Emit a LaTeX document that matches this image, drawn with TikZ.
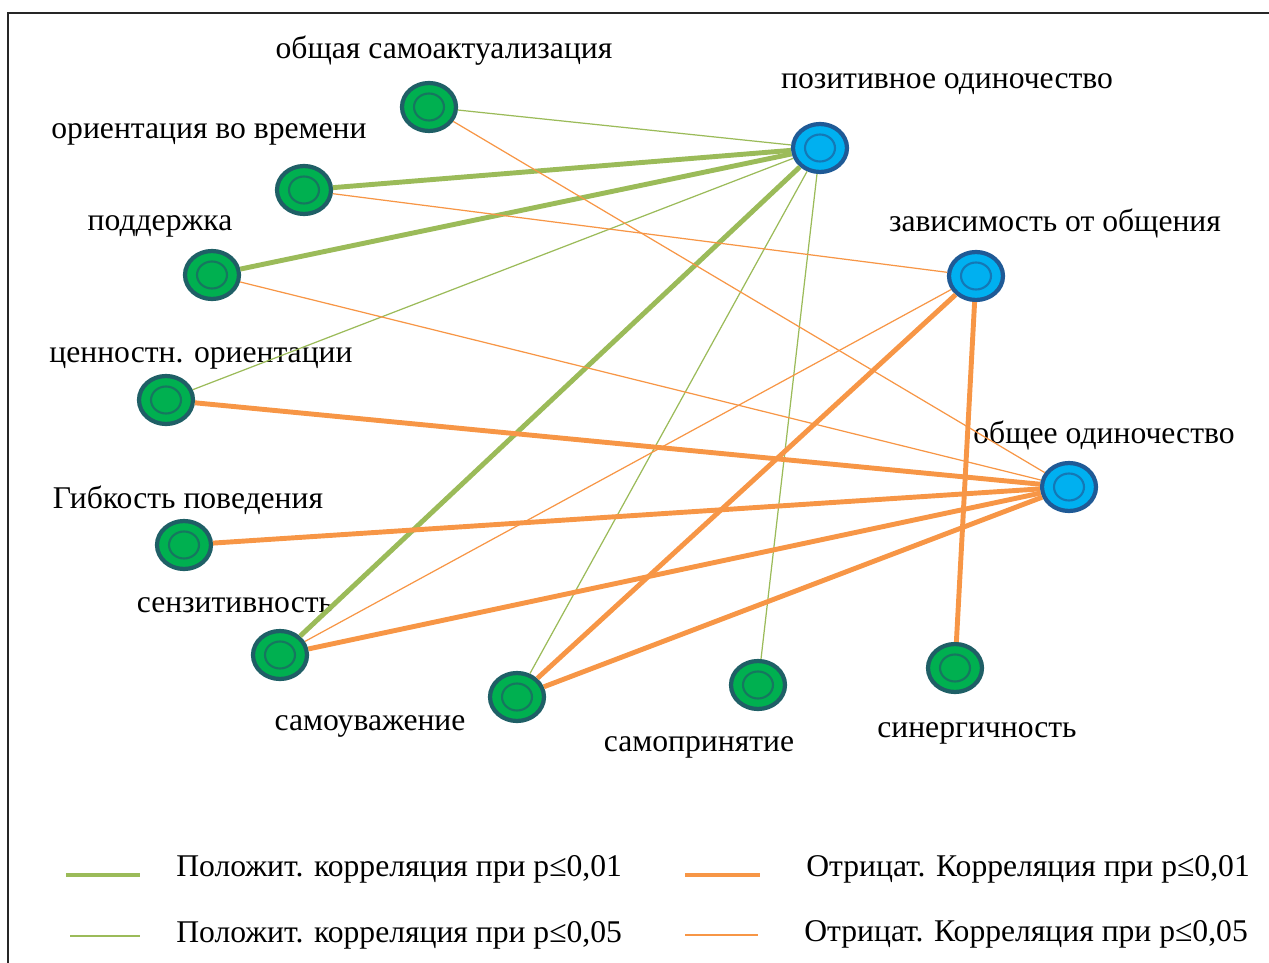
\documentclass[tikz,border=0pt]{standalone}
\usepackage{fontspec}
\setmainfont{Liberation Serif}
\usepackage{tikz}
\usetikzlibrary{
  positioning,
  shapes.geometric
}
\definecolor{posgreen}{HTML}{9BBB59}
\definecolor{negorange}{HTML}{F79646}
\definecolor{nodegreen}{HTML}{00B050}
\definecolor{nodering}{HTML}{1F5F66}
\definecolor{nodeblue}{HTML}{00B0F0}
\definecolor{bluering}{HTML}{1F5A96}

\tikzset{
  item/.style={ellipse, minimum width=1.08cm, minimum height=0.96cm, inner sep=0pt,
    fill=nodegreen, draw=nodering, line width=2.4pt,
    path picture={\draw[nodering!70!nodegreen, line width=1.2pt]
      (path picture bounding box.center) ellipse (0.3cm and 0.27cm);}},
  factor/.style={item, fill=nodeblue, draw=bluering,
    path picture={\draw[bluering!65!nodeblue, line width=1.2pt]
      (path picture bounding box.center) ellipse (0.3cm and 0.27cm);}},
  lab/.style={anchor=base, inner sep=0pt, font=\fontsize{18}{21}\selectfont},
  posstrong/.style={posgreen, line width=2.8pt},
  posweak/.style={posgreen, line width=0.7pt},
  negstrong/.style={negorange, line width=2.8pt},
  negweak/.style={negorange, line width=0.7pt}
}

\begin{document}
\begin{tikzpicture}[x=0.02cm,y=-0.02cm]
        \useasboundingbox (0,0) rectangle (1269,963);
        \begin{scope}
        \clip (0,0) rectangle (1269,963);
        \draw[black!85, line width=1.2pt] (8,13) rectangle (1300,1000);
        \end{scope}

        % scales
        \node[item] (samoakt) at (429,107) {};
        \node[item] (orient) at (304,190) {};
        \node[item] (podd) at (212,275) {};
        \node[item] (cenn) at (166,400) {};
        \node[item] (gibk) at (184,545) {};
        \node[item] (senz) at (280,655) {};
        \node[item] (samouv) at (517,697) {};
        \node[item] (samopr) at (758,685) {};
        \node[item] (sinerg) at (955,668) {};
        \node[factor] (poz) at (820,148) {};
        \node[factor] (zav) at (976,276) {};
        \node[factor] (obsh) at (1069,487) {};

        \node[lab] (samoaktlab) at (444,59) {общая самоактуализация};
        \node[lab] (orientlab) at (209,139) {ориентация во времени};
        \node[lab] (poddlab) at (160,231) {поддержка};
        \node[lab] (cennlab) at (201,362) {ценностн. ориентации};
        \node[lab] (gibklab) at (188,508) {Гибкость поведения};
        \node[lab] (senzlab) at (235,612) {сензитивность};
        \node[lab] (samouvlab) at (370,730) {самоуважение};
        \node[lab] (samoprlab) at (699,751) {самопринятие};
        \node[lab] (sinerglab) at (977,737) {синергичность};
        \node[lab] (pozlab) at (947,89) {позитивное одиночество};
        \node[lab] (zavlab) at (1055,232) {зависимость от общения};
        \node[lab] (obshlab) at (1104,443) {общее одиночество};

        % positive
        \draw[posstrong] (orient) -- (poz);
        \draw[posstrong] (podd) -- (poz);
        \draw[posstrong] (senz) -- (poz);
        \draw[posweak] (samoakt) -- (poz);
        \draw[posweak] (cenn) -- (poz);
        \draw[posweak] (samouv) -- (poz);
        \draw[posweak] (samopr) -- (poz);

        % negative
        \draw[negweak] (samoakt) -- (obsh);
        \draw[negweak] (orient) -- (zav);
        \draw[negweak] (podd) -- (obsh);
        \draw[negweak] (senz) -- (zav);
        \draw[negstrong] (cenn) -- (obsh);
        \draw[negstrong] (gibk) -- (obsh);
        \draw[negstrong] (senz) -- (obsh);
        \draw[negstrong] (samouv) -- (zav);
        \draw[negstrong] (samouv) -- (obsh);
        \draw[negstrong] (sinerg) -- (zav);

        % legend
        \coordinate (k1a) at (66,875);  \coordinate (k1b) at (140,875);
        \coordinate (k2a) at (70,936);  \coordinate (k2b) at (140,936);
        \coordinate (k3a) at (685,875); \coordinate (k3b) at (760,875);
        \coordinate (k4a) at (685,935); \coordinate (k4b) at (758,935);
        \draw[posstrong] (k1a) -- (k1b);
        \draw[posweak] (k2a) -- (k2b);
        \draw[negstrong] (k3a) -- (k3b);
        \draw[negweak] (k4a) -- (k4b);
        \node[lab, anchor=base west] (k1) at (176,876) {Положит. корреляция при p≤0,01};
        \node[lab, anchor=base west] (k2) at (176,942) {Положит. корреляция при p≤0,05};
        \node[lab, anchor=base west] (k3) at (806,876) {Отрицат. Корреляция при p≤0,01};
        \node[lab, anchor=base west] (k4) at (804,941) {Отрицат. Корреляция при p≤0,05};
    \end{tikzpicture}
\end{document}
